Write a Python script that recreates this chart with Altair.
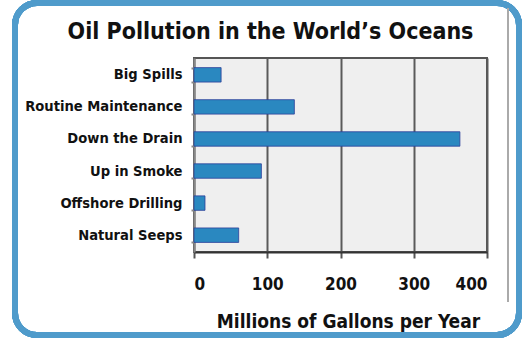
import altair as alt
import pandas as pd

categories = ["Big Spills", "Routine Maintenance", "Down the Drain",
              "Up in Smoke", "Offshore Drilling", "Natural Seeps"]
values = [37, 137, 363, 92, 15, 61]
x_ticks = [0, 100, 200, 300, 400]

df = pd.DataFrame({"source": categories, "gallons": values})
FONT = "DejaVu Sans Condensed"

bars = alt.Chart(df).mark_bar(
    color="#2a88c0", stroke="#2b3f99", strokeWidth=0.8
).encode(
    x=alt.X("gallons:Q", scale=alt.Scale(domain=[0, 400], nice=False),
            axis=alt.Axis(values=x_ticks, title="Millions of Gallons per Year",
                          grid=True, gridColor="#5a5a5a", gridWidth=2,
                          domainColor="#333", domainWidth=2,
                          tickColor="#555", tickSize=6, tickWidth=2,
                          labelFont=FONT, labelFontSize=17, labelFontWeight="bold",
                          labelColor="#111", labelPadding=18,
                          titleFont=FONT, titleFontSize=19, titleFontWeight="bold",
                          titleColor="#111", titlePadding=20, titleX=154)),
    y=alt.Y("source:N", sort=categories,
            scale=alt.Scale(paddingInner=0.55, paddingOuter=0.3),
            axis=alt.Axis(title=None, labelFont=FONT, labelFontSize=14.6,
                          labelFontWeight="bold", labelColor="#111",
                          labelPadding=9, domainColor="#888", domainWidth=2,
                          tickBand="extent", tickColor="#888", tickSize=3,
                          tickWidth=2)),
)

frame = alt.Chart(df).mark_rect(
    fillOpacity=0, stroke="#4f9bcb", strokeWidth=6, cornerRadius=22
).encode(
    x=alt.value(-179), x2=alt.value(325), y=alt.value(-55), y2=alt.value(277)
)

edge = alt.Chart(df).mark_rule(color="#aaaaaa", strokeWidth=2).encode(
    x=alt.value(314), y=alt.value(-50), y2=alt.value(244)
)

chart = alt.layer(frame, edge, bars).properties(
    width=293, height=194,
    autosize=alt.AutoSizeParams(type="none"),
    padding={"left": 194, "top": 58, "right": 36, "bottom": 89},
    background="white",
    title=alt.TitleParams("Oil Pollution in the World\u2019s Oceans", font=FONT,
                          fontSize=23, fontWeight="bold", color="#111",
                          frame="group", anchor="middle", baseline="alphabetic",
                          dx=-70, dy=62, offset=0),
).configure_view(
    fill="#efefef", stroke="#555555", strokeWidth=2
)

chart.save("out.html", embed_options={"renderer": "svg", "actions": False})
